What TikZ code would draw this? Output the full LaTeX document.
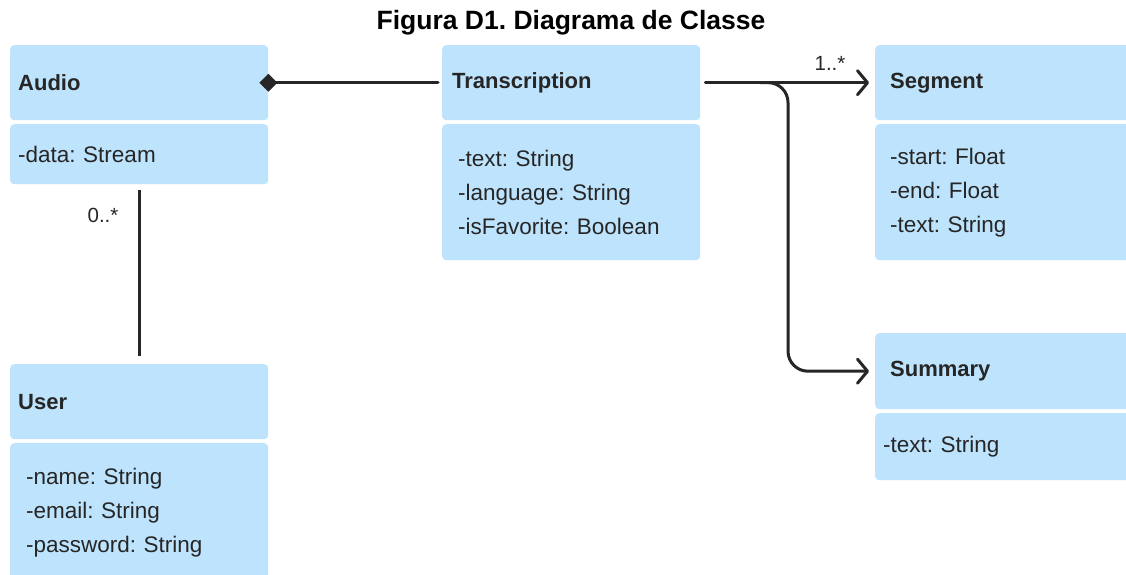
\documentclass[tikz,border=0pt]{standalone}
\usepackage{fontspec}
\setmainfont{Liberation Sans}
\frenchspacing
\usetikzlibrary{arrows.meta,calc}
\definecolor{boxfill}{HTML}{BEE3FC}
\definecolor{ink}{HTML}{262626}
\tikzset{
  x=1pt, y=-1pt,
  umlbox/.style={fill=boxfill, rounded corners=4pt, anchor=north west,
    inner ysep=0pt, align=left, text=ink,
    font=\fontsize{22.5}{34}\selectfont\frenchspacing},
  hdr/.style={umlbox, font=\fontsize{22}{34}\selectfont\bfseries},
  link/.style={draw=ink, line width=3pt, line cap=round, line join=round},
  mult/.style={text=ink, font=\fontsize{20.5}{22}\selectfont, inner sep=0pt},
}
\begin{document}
\begin{tikzpicture}
\clip (0,0) rectangle (1126,574);
\fill[white] (0,0) rectangle (1126,574);

% title
\node[font=\fontsize{26.5}{30}\selectfont\bfseries, text=black] (title) at (571,23) {Figura D1. Diagrama de Classe};

% Audio
\node[hdr, minimum width=258pt, minimum height=75pt, text width=242pt, inner xsep=8pt] (audio) at (10,45) {Audio};
\node[umlbox, minimum width=258pt, minimum height=60pt, text width=242pt, inner xsep=8pt] (audioattr) at (10,124) {-data: Stream};

% Transcription
\node[hdr, minimum width=258pt, minimum height=75pt, text width=238pt, inner xsep=10pt] (trans) at (442,45) {Transcription};
\node[umlbox, minimum width=258pt, minimum height=136pt, text width=226pt, inner xsep=16pt] (transattr) at (442,124) {-text: String\\-language: String\\-isFavorite: Boolean};

% Segment
\node[hdr, minimum width=270pt, minimum height=75pt, text width=240pt, inner xsep=15pt] (seg) at (875,45) {Segment};
\node[umlbox, minimum width=270pt, minimum height=136pt, text width=240pt, inner xsep=15pt] (segattr) at (875,124) {-start: Float\\-end: Float\\-text: String};

% Summary
\node[hdr, minimum width=270pt, minimum height=76pt, text width=240pt, inner xsep=15pt] (sum) at (875,333) {Summary};
\node[umlbox, minimum width=270pt, minimum height=67pt, text width=254pt, inner xsep=8pt] (sumattr) at (875,413) {-text: String};

% User
\node[hdr, minimum width=258pt, minimum height=75pt, text width=242pt, inner xsep=8pt] (user) at (10,364) {User};
\node[umlbox, minimum width=258pt, minimum height=138pt, text width=226pt, inner xsep=16pt] (userattr) at (10,443) {-name: String\\-email: String\\-password: String};

% composition Audio -- Transcription
\draw[link, {Diamond[length=18pt,width=18pt]}-, shorten <=-9pt, shorten >=4pt] (audio.east) -- (trans.west);

% Audio -- User
\draw[link, line cap=butt, shorten <=6pt, shorten >=8pt] (audioattr.south) -- (user.north);
\node[mult] (m0) at (103,215) {0..*};

% Transcription -> Segment
\draw[link, -{Straight Barb[length=10pt,width=24pt,round]}, shorten <=5pt, shorten >=6pt] (trans.east) -- (seg.west);
\node[mult] (m1) at (830,63) {1..*};

% Transcription -> Summary (branch)
\coordinate (fork) at (788,82.5);
\draw[link, rounded corners=20pt, -{Straight Barb[length=10pt,width=24pt,round]}, shorten >=6pt]
  ($(trans.east)+(60pt,0)$) -- (fork) -- (fork |- sum.west) -- (sum.west);
\end{tikzpicture}
\end{document}
